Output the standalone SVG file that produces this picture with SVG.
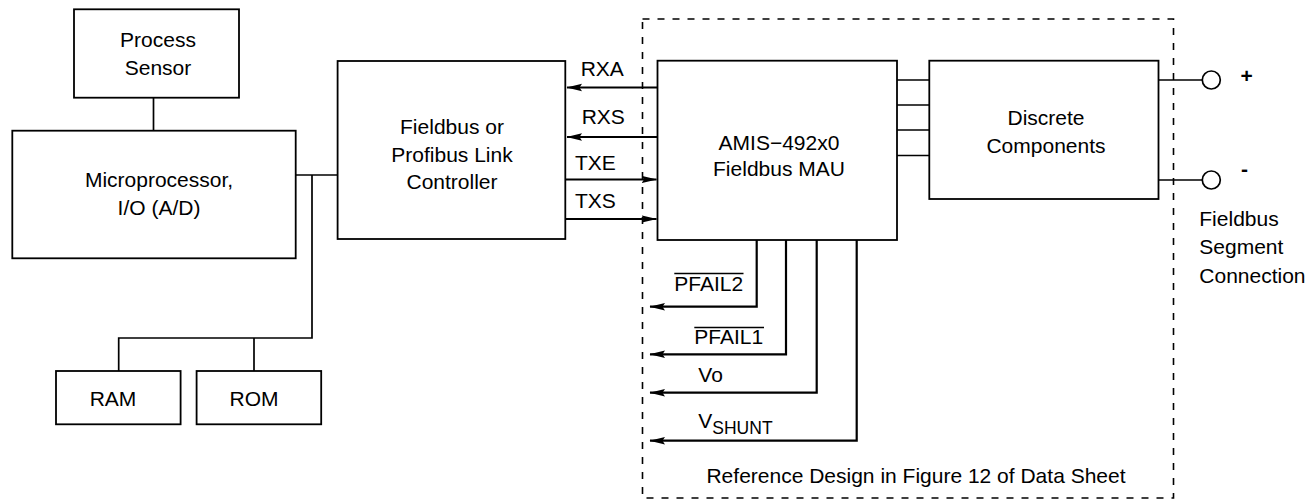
<svg xmlns="http://www.w3.org/2000/svg" width="1315" height="501" viewBox="0 0 1315 501">
<style>
  .box{fill:#fff;stroke:#000;stroke-width:1.8}
  .ln{fill:none;stroke:#000;stroke-width:1.7}
  .ar{fill:none;stroke:#000;stroke-width:2.2}
  .dash{fill:none;stroke:#000;stroke-width:1.6;stroke-dasharray:7 8}
  text{font-family:"Liberation Sans",Arial,Helvetica,sans-serif;font-size:21px;fill:#000}
  .c{text-anchor:middle}
  .b{font-weight:bold}
</style>
<defs>
  <marker id="ah" markerUnits="userSpaceOnUse" markerWidth="18" markerHeight="10" refX="15" refY="4" orient="auto">
    <path d="M0,0.3 L15.5,4 L0,7.7 L2.5,4 z" fill="#000"/>
  </marker>
</defs>
<rect width="1315" height="501" fill="#fff"/>

<g id="reference-design">
  <rect class="dash" x="642.5" y="19" width="531" height="479"/>
  <text class="c" x="916" y="483">Reference Design in Figure 12 of Data Sheet</text>
</g>

<g id="connectors">
  <line class="ln" x1="153.5" y1="97.7" x2="153.5" y2="130.7"/>
  <line class="ln" x1="295.7" y1="175" x2="337.6" y2="175"/>
  <polyline class="ln" points="312,175 312,338 118.7,338 118.7,371"/>
  <line class="ln" x1="254" y1="338" x2="254" y2="371"/>
  <line class="ar" x1="657.5" y1="87.5" x2="567" y2="87.5" marker-end="url(#ah)"/>
  <line class="ar" x1="657.5" y1="137" x2="567" y2="137" marker-end="url(#ah)"/>
  <line class="ar" x1="566" y1="179.5" x2="656.5" y2="179.5" marker-end="url(#ah)"/>
  <line class="ar" x1="566" y1="219" x2="656.5" y2="219" marker-end="url(#ah)"/>
  <polyline class="ar" points="756.7,240 756.7,306.7 650,306.7" marker-end="url(#ah)"/>
  <polyline class="ar" points="786,240 786,354.3 650,354.3" marker-end="url(#ah)"/>
  <polyline class="ar" points="816.7,240 816.7,392.7 650,392.7" marker-end="url(#ah)"/>
  <polyline class="ar" points="856.7,240 856.7,440.7 650,440.7" marker-end="url(#ah)"/>
  <line class="ln" x1="897" y1="80" x2="929.3" y2="80"/>
  <line class="ln" x1="897" y1="105" x2="929.3" y2="105"/>
  <line class="ln" x1="897" y1="130" x2="929.3" y2="130"/>
  <line class="ln" x1="897" y1="155.5" x2="929.3" y2="155.5"/>
  <line class="ln" x1="1158.5" y1="80" x2="1202.3" y2="80"/>
  <line class="ln" x1="1158.5" y1="180" x2="1202.3" y2="180"/>
</g>

<g id="labels">
  <text x="580.7" y="76">RXA</text>
  <text x="581.7" y="124">RXS</text>
  <text x="575" y="169.5">TXE</text>
  <text x="575" y="207.5">TXS</text>
  <text x="674.3" y="290.7">PFAIL2</text>
  <line class="ln" x1="674.3" y1="273.5" x2="743.5" y2="273.5"/>
  <text x="694.3" y="344.3">PFAIL1</text>
  <line class="ln" x1="694.3" y1="327.5" x2="764" y2="327.5"/>
  <text x="698.3" y="381.7">Vo</text>
  <text x="698.3" y="428.3">V<tspan font-size="17.5" dy="6">SHUNT</tspan></text>
</g>

<g id="process-sensor">
  <rect class="box" x="74" y="9.3" width="165" height="88.4"/>
  <text class="c" x="158" y="46.7">Process</text>
  <text class="c" x="158" y="75">Sensor</text>
</g>

<g id="microprocessor">
  <rect class="box" x="12.3" y="130.7" width="283.4" height="127.6"/>
  <text class="c" x="159" y="187.3">Microprocessor,</text>
  <text class="c" x="159" y="215">I/O (A/D)</text>
</g>

<g id="ram">
  <rect class="box" x="56" y="371" width="124.6" height="53.3"/>
  <text class="c" x="113" y="405.7">RAM</text>
</g>

<g id="rom">
  <rect class="box" x="196.6" y="371" width="124.6" height="53.3"/>
  <text class="c" x="254" y="405.7">ROM</text>
</g>

<g id="link-controller">
  <rect class="box" x="337.6" y="61" width="227.7" height="178"/>
  <text class="c" x="452" y="134">Fieldbus or</text>
  <text class="c" x="452" y="161.5">Profibus Link</text>
  <text class="c" x="452" y="188.5">Controller</text>
</g>

<g id="mau">
  <rect class="box" x="657.5" y="60.7" width="239.5" height="179.3"/>
  <text class="c" x="779" y="150">AMIS−492x0</text>
  <text class="c" x="779" y="175.7">Fieldbus MAU</text>
</g>

<g id="discrete-components">
  <rect class="box" x="929.3" y="60.7" width="229.2" height="138.3"/>
  <text class="c" x="1046" y="125">Discrete</text>
  <text class="c" x="1046" y="152.7">Components</text>
</g>

<g id="terminal-plus">
  <circle class="ln" cx="1211.3" cy="80" r="9"/>
  <text class="b" x="1240.5" y="83">+</text>
</g>

<g id="terminal-minus">
  <circle class="ln" cx="1211.3" cy="180" r="9"/>
  <text class="b" x="1241" y="176">-</text>
</g>

<g id="segment-label">
  <text x="1199.3" y="226">Fieldbus</text>
  <text x="1199.3" y="254">Segment</text>
  <text x="1199.3" y="283">Connection</text>
</g>
</svg>
